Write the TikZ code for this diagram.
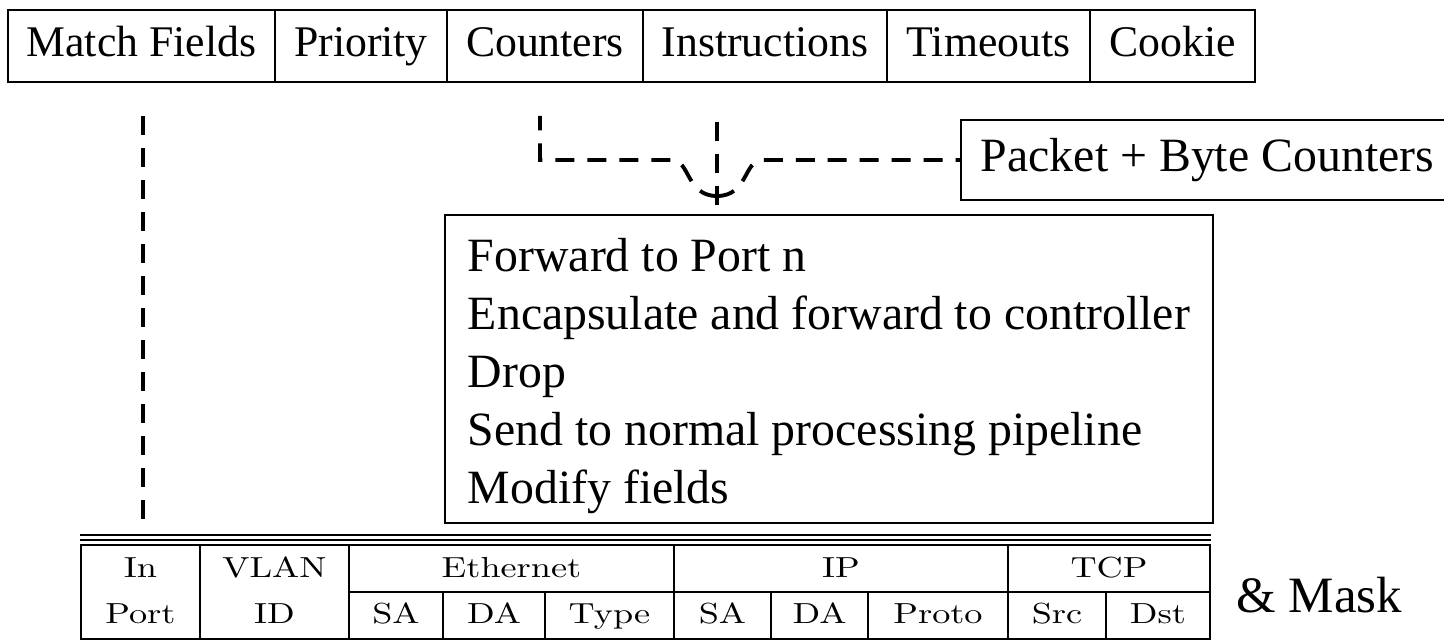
\documentclass[tikz,border=0pt]{standalone}
\usepackage{fontspec}
\setmainfont{Liberation Serif}
\newfontfamily\tblfont{lmroman10-regular.otf}[FakeStretch=1.25]

\begin{document}
\begin{tikzpicture}[x=0.02cm,y=-0.02cm,
  field/.style={draw,line width=1.1pt,minimum height=1.44cm,inner sep=0pt,
    text height=17pt,text depth=5.5pt,font=\fontsize{24.9}{30}\selectfont},
  bigtext/.style={font=\fontsize{27.2}{32.9}\selectfont},
  link/.style={line width=2.2pt,dash pattern=on 0.38cm off 0.26cm},
  cell/.style={anchor=base,inner sep=0pt,font=\tblfont\fontsize{16.5}{19}\selectfont}]
  \useasboundingbox (0,0) rectangle (1444,643);
  % flow entry
  \node[field,minimum width=5.34cm] (mf) at (141.5,46) {Match Fields};
  \node[field,minimum width=3.44cm] (pri) at (361,46) {Priority};
  \node[field,minimum width=3.92cm] (cnt) at (545,46) {Counters};
  \node[field,minimum width=4.88cm] (ins) at (765,46) {Instructions};
  \node[field,minimum width=4.06cm] (tmo) at (988.5,46) {Timeouts};
  \node[field,minimum width=3.30cm] (cki) at (1172.5,46) {Cookie};
  \node[draw,line width=1.1pt,bigtext,anchor=west,minimum height=1.6cm,inner xsep=0.4cm]
    (pbc) at (960,160) {Packet + Byte Counters};
  \node[draw,line width=1.1pt,bigtext,anchor=north west,align=left,
    minimum width=15.36cm,inner xsep=0.44cm,inner ysep=0pt] (act) at (444,214)
    {\rule{0pt}{1.14cm}Forward to Port n\\Encapsulate and forward to controller\\Drop\\
     Send to normal processing pipeline\\Modify fields\rule[-0.4cm]{0pt}{0pt}};
  % dashed links
  \coordinate (mfend) at (143,523);
  \coordinate (cturn) at (540,160);
  \coordinate (jn) at (717,196);
  \coordinate (jtip) at (717,205);
  \draw[link,shorten <=0.66cm] (mfend |- mf.south) -- (mfend);
  \draw[link,dash phase=0.02cm,shorten >=0.66cm] (jn) .. controls (686,196) and (690,160)
    .. (672,160) -- (cturn) -- (cturn |- cnt.south);
  \draw[link,dash phase=0.02cm] (jn) .. controls (748,196) and (744,160) .. (762,160)
    -- (pbc.west);
  \draw[link,shorten >=0.66cm] (jtip) -- (jtip |- ins.south);
  % header table
  \draw[line width=1.1pt] (80,535) -- (1211,535);
  \draw[line width=1.1pt] (80,540) -- (1211,540);
  \draw[line width=1.6pt] (81,545) rectangle (1210,639);
  \draw[line width=1.1pt] (349,592) -- (1210,592);
  \foreach \x in {200,349,674,1008} \draw[line width=1.6pt] (\x,545) -- (\x,639);
  \foreach \x in {443,545,771,868,1106} \draw[line width=1.6pt] (\x,592) -- (\x,639);
  \foreach \x/\y/\t [count=\i] in {140.5/577/In, 140.5/623/Port, 274.5/577/VLAN,
      274.5/623/ID, 511.5/577/Ethernet, 396/623/SA, 494/623/DA, 609.5/623/Type,
      841/577/IP, 722.5/623/SA, 819.5/623/DA, 938/623/Proto,
      1109/577/TCP, 1057/623/Src, 1158/623/Dst}
    \node[cell] (hd\i) at (\x,\y) {\t};
  \node[anchor=base west,inner sep=0pt,font=\fontsize{29}{34}\selectfont] (mask)
    at (1236,612) {\& Mask};
\end{tikzpicture}
\end{document}
